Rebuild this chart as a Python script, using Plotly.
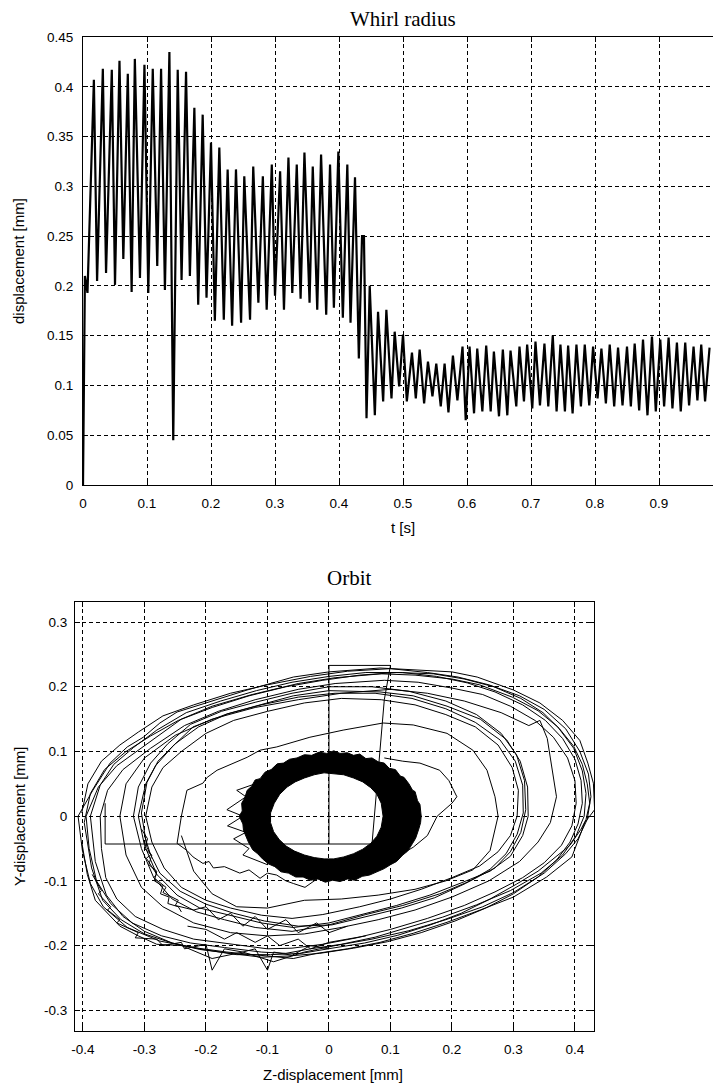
import plotly.graph_objects as go

# page body has an 8px margin: the figure is drawn from (8, 8) on the page
OFF = 8
W, H = 721 - OFF, 1084 - OFF


def px(x):
    return (x - OFF) / W


def py(y):
    return 1 - (y - OFF) / H


# ---------------- Whirl radius (read per-cycle extremes) ----------------
start_t = [0.000, 0.003]
start_v = [0.000, 0.210]

peak_t = [0.017, 0.031, 0.045, 0.057, 0.070, 0.081, 0.096, 0.109, 0.122, 0.135,
          0.148, 0.161, 0.174, 0.187, 0.200, 0.213, 0.226, 0.239, 0.252, 0.266,
          0.281, 0.295, 0.308, 0.321, 0.334, 0.346, 0.359, 0.372, 0.386, 0.399,
          0.413, 0.425, 0.436, 0.439, 0.448, 0.461, 0.474, 0.487, 0.500, 0.514,
          0.526, 0.539, 0.552, 0.565, 0.578, 0.593, 0.604, 0.616, 0.630, 0.642,
          0.656, 0.668, 0.682, 0.694, 0.707, 0.721, 0.734, 0.746, 0.758, 0.771,
          0.784, 0.797, 0.810, 0.823, 0.836, 0.850, 0.862, 0.875, 0.889, 0.902,
          0.915, 0.928, 0.941, 0.954, 0.966, 0.979]
peak_v = [0.407, 0.418, 0.417, 0.426, 0.413, 0.428, 0.422, 0.418, 0.418, 0.435,
          0.417, 0.415, 0.379, 0.372, 0.344, 0.339, 0.317, 0.317, 0.310, 0.320,
          0.310, 0.322, 0.315, 0.329, 0.322, 0.334, 0.320, 0.332, 0.322, 0.335,
          0.322, 0.309, 0.250, 0.250, 0.200, 0.174, 0.176, 0.154, 0.151, 0.133,
          0.136, 0.124, 0.122, 0.122, 0.130, 0.139, 0.139, 0.137, 0.140, 0.134,
          0.136, 0.135, 0.139, 0.141, 0.144, 0.142, 0.150, 0.141, 0.140, 0.141,
          0.141, 0.139, 0.137, 0.141, 0.138, 0.139, 0.142, 0.146, 0.149, 0.146,
          0.148, 0.143, 0.143, 0.139, 0.141, 0.138]

trough_t = [0.007, 0.022, 0.036, 0.050, 0.063, 0.076, 0.089, 0.102, 0.116, 0.128,
            0.141, 0.154, 0.167, 0.180, 0.193, 0.206, 0.220, 0.233, 0.247, 0.261,
            0.274, 0.287, 0.300, 0.314, 0.327, 0.340, 0.354, 0.366, 0.380, 0.392,
            0.406, 0.418, 0.431, 0.443, 0.456, 0.469, 0.482, 0.494, 0.506, 0.520,
            0.533, 0.546, 0.559, 0.571, 0.585, 0.598, 0.611, 0.624, 0.637, 0.650,
            0.663, 0.677, 0.689, 0.702, 0.714, 0.727, 0.740, 0.753, 0.765, 0.778,
            0.791, 0.804, 0.817, 0.830, 0.843, 0.856, 0.869, 0.882, 0.895, 0.908,
            0.921, 0.934, 0.947, 0.960, 0.972]
trough_v = [0.193, 0.205, 0.213, 0.201, 0.227, 0.194, 0.208, 0.193, 0.220, 0.196,
            0.045, 0.206, 0.210, 0.181, 0.188, 0.165, 0.166, 0.160, 0.163, 0.166,
            0.183, 0.176, 0.190, 0.176, 0.193, 0.187, 0.183, 0.176, 0.171, 0.178,
            0.168, 0.163, 0.127, 0.067, 0.070, 0.084, 0.087, 0.099, 0.084, 0.087,
            0.082, 0.089, 0.079, 0.073, 0.085, 0.065, 0.072, 0.074, 0.074, 0.069,
            0.070, 0.079, 0.084, 0.077, 0.080, 0.079, 0.074, 0.074, 0.072, 0.079,
            0.080, 0.087, 0.082, 0.079, 0.080, 0.079, 0.075, 0.070, 0.074, 0.079,
            0.077, 0.074, 0.080, 0.085, 0.084]

t_ticks = [0, 0.1, 0.2, 0.3, 0.4, 0.5, 0.6, 0.7, 0.8, 0.9]
t_ticktext = ["0", "0.1", "0.2", "0.3", "0.4", "0.5", "0.6", "0.7", "0.8", "0.9"]
r_ticks = [0, 0.05, 0.1, 0.15, 0.2, 0.25, 0.3, 0.35, 0.4, 0.45]
r_ticktext = ["0", "0.05", "0.1", "0.15", "0.2", "0.25", "0.3", "0.35", "0.4", "0.45"]

# ---------------- Orbit (read loops) ----------------
outer1_z = [-0.408, -0.384, -0.356, -0.328, -0.302, -0.275, -0.247, -0.198, -0.133, -0.058, 0.000, 0.083, 0.137, 0.200, 0.241, 0.300, 0.343, 0.380, 0.408, 0.421, 0.430, 0.432, 0.416, 0.395, 0.354, 0.300, 0.246, 0.192, 0.137, 0.083, 0.030, -0.020, -0.058, -0.100, -0.166, -0.221, -0.275, -0.328, -0.367, -0.388, -0.401, -0.408]
outer1_y = [0.000, 0.040, 0.082, 0.107, 0.122, 0.144, 0.161, 0.176, 0.195, 0.215, 0.223, 0.229, 0.226, 0.223, 0.215, 0.195, 0.175, 0.148, 0.117, 0.082, 0.051, 0.010, -0.010, -0.063, -0.094, -0.125, -0.145, -0.164, -0.181, -0.195, -0.205, -0.212, -0.220, -0.216, -0.210, -0.203, -0.193, -0.172, -0.140, -0.104, -0.053, 0.000]

outer2_z = [-0.395, -0.375, -0.345, -0.295, -0.240, -0.190, -0.125, -0.050, 0.010, 0.085, 0.140, 0.200, 0.245, 0.298, 0.340, 0.372, 0.398, 0.412, 0.418, 0.415, 0.402, 0.380, 0.345, 0.295, 0.240, 0.185, 0.130, 0.075, 0.020, -0.030, -0.070, -0.110, -0.170, -0.225, -0.272, -0.320, -0.355, -0.378, -0.390, -0.395]
outer2_y = [0.000, 0.045, 0.078, 0.112, 0.150, 0.170, 0.188, 0.205, 0.214, 0.220, 0.218, 0.212, 0.203, 0.184, 0.163, 0.138, 0.105, 0.070, 0.035, 0.000, -0.030, -0.060, -0.088, -0.115, -0.137, -0.156, -0.172, -0.187, -0.198, -0.205, -0.212, -0.210, -0.203, -0.196, -0.185, -0.165, -0.135, -0.100, -0.050, 0.000]

outer3_z = [-0.372, -0.360, -0.335, -0.290, -0.235, -0.180, -0.120, -0.050, 0.010, 0.090, 0.145, 0.200, 0.250, 0.295, 0.335, 0.365, 0.388, 0.400, 0.402, 0.395, 0.378, 0.350, 0.315, 0.270, 0.220, 0.160, 0.100, 0.045, -0.010, -0.060, -0.100, -0.160, -0.220, -0.270, -0.315, -0.345, -0.363, -0.370, -0.372]
outer3_y = [0.000, 0.040, 0.072, 0.105, 0.140, 0.162, 0.180, 0.196, 0.205, 0.210, 0.207, 0.198, 0.188, 0.170, 0.148, 0.122, 0.090, 0.055, 0.020, -0.015, -0.045, -0.072, -0.095, -0.117, -0.138, -0.158, -0.175, -0.188, -0.198, -0.204, -0.205, -0.198, -0.190, -0.175, -0.155, -0.128, -0.095, -0.050, 0.000]

outer4_z = [-0.402, -0.392, -0.370, -0.340, -0.310, -0.270, -0.220, -0.160, -0.100, -0.030, 0.030, 0.100, 0.160, 0.210, 0.260, 0.310, 0.350, 0.385, 0.408, 0.422, 0.426, 0.420, 0.405, 0.385, 0.350, 0.300, 0.250, 0.190, 0.130, 0.070, 0.010, -0.040, -0.090, -0.140, -0.190, -0.240, -0.280, -0.310, -0.340, -0.360, -0.380, -0.393, -0.402]
outer4_y = [0.005, 0.050, 0.085, 0.110, 0.130, 0.155, 0.172, 0.190, 0.203, 0.216, 0.224, 0.228, 0.222, 0.215, 0.203, 0.186, 0.165, 0.135, 0.100, 0.065, 0.030, -0.005, -0.035, -0.058, -0.088, -0.118, -0.140, -0.160, -0.177, -0.190, -0.200, -0.210, -0.225, -0.210, -0.220, -0.200, -0.198, -0.185, -0.170, -0.150, -0.130, -0.090, -0.040]

outer5_z = [-0.388, -0.372, -0.350, -0.318, -0.280, -0.232, -0.176, -0.118, -0.060, 0.000, 0.060, 0.120, 0.175, 0.225, 0.270, 0.315, 0.352, 0.380, 0.400, 0.410, 0.412, 0.405, 0.392, 0.370, 0.340, 0.300, 0.255, 0.205, 0.150, 0.095, 0.040, -0.015, -0.065, -0.110, -0.160, -0.210, -0.255, -0.300, -0.335, -0.362, -0.380, -0.388]
outer5_y = [0.000, 0.048, 0.080, 0.106, 0.133, 0.160, 0.178, 0.194, 0.207, 0.216, 0.222, 0.222, 0.216, 0.206, 0.192, 0.172, 0.148, 0.120, 0.088, 0.055, 0.020, -0.012, -0.040, -0.068, -0.094, -0.120, -0.142, -0.162, -0.180, -0.194, -0.204, -0.212, -0.216, -0.218, -0.212, -0.206, -0.196, -0.178, -0.155, -0.122, -0.070, 0.000]

outer6_z = [-0.398, -0.388, -0.365, -0.330, -0.290, -0.245, -0.190, -0.130, -0.070, -0.010, 0.050, 0.110, 0.170, 0.220, 0.268, 0.312, 0.348, 0.375, 0.398, 0.412, 0.420, 0.424, 0.418, 0.410, 0.392, 0.372, 0.340, 0.305, 0.262, 0.215, 0.165, 0.112, 0.058, 0.005, -0.045, -0.095, -0.150, -0.205, -0.255, -0.300, -0.338, -0.368, -0.386, -0.398]
outer6_y = [-0.010, 0.035, 0.072, 0.100, 0.124, 0.148, 0.168, 0.186, 0.200, 0.210, 0.218, 0.222, 0.220, 0.212, 0.200, 0.182, 0.160, 0.135, 0.108, 0.080, 0.050, 0.020, -0.005, -0.020, -0.045, -0.060, -0.085, -0.105, -0.128, -0.150, -0.168, -0.184, -0.196, -0.204, -0.212, -0.214, -0.214, -0.206, -0.196, -0.182, -0.160, -0.130, -0.080, -0.010]

second1_z = [-0.310, -0.298, -0.282, -0.255, -0.221, -0.166, -0.112, -0.058, 0.000, 0.083, 0.137, 0.192, 0.246, 0.289, 0.311, 0.323, 0.324, 0.315, 0.295, 0.262, 0.218, 0.164, 0.110, 0.060, 0.000, -0.058, -0.110, -0.166, -0.210, -0.247, -0.280, -0.300, -0.310]
second1_y = [0.000, 0.050, 0.078, 0.107, 0.138, 0.158, 0.172, 0.186, 0.194, 0.192, 0.186, 0.170, 0.150, 0.118, 0.085, 0.045, 0.000, -0.030, -0.062, -0.085, -0.102, -0.122, -0.138, -0.150, -0.165, -0.172, -0.165, -0.152, -0.142, -0.122, -0.090, -0.045, 0.000]

second2_z = [-0.298, -0.288, -0.270, -0.240, -0.200, -0.155, -0.100, -0.040, 0.020, 0.085, 0.140, 0.190, 0.238, 0.275, 0.298, 0.308, 0.306, 0.295, 0.275, 0.245, 0.200, 0.150, 0.100, 0.050, -0.010, -0.060, -0.110, -0.160, -0.200, -0.240, -0.268, -0.288, -0.298]
second2_y = [0.000, 0.045, 0.075, 0.100, 0.128, 0.148, 0.162, 0.175, 0.182, 0.180, 0.172, 0.157, 0.138, 0.110, 0.075, 0.040, 0.000, -0.030, -0.055, -0.077, -0.095, -0.113, -0.128, -0.140, -0.152, -0.158, -0.153, -0.142, -0.130, -0.110, -0.080, -0.040, 0.000]

second3_z = [-0.318, -0.310, -0.290, -0.262, -0.225, -0.175, -0.120, -0.060, 0.000, 0.070, 0.130, 0.190, 0.240, 0.280, 0.305, 0.318, 0.320, 0.312, 0.295, 0.270, 0.230, 0.180, 0.120, 0.060, 0.000, -0.060, -0.120, -0.170, -0.215, -0.255, -0.285, -0.305, -0.318]
second3_y = [0.000, 0.045, 0.082, 0.112, 0.142, 0.162, 0.176, 0.190, 0.200, 0.200, 0.193, 0.178, 0.157, 0.128, 0.095, 0.055, 0.010, -0.025, -0.055, -0.080, -0.100, -0.120, -0.138, -0.152, -0.168, -0.178, -0.172, -0.160, -0.148, -0.128, -0.095, -0.050, 0.000]

second4_z = [-0.305, -0.296, -0.278, -0.250, -0.212, -0.165, -0.110, -0.050, 0.010, 0.075, 0.135, 0.190, 0.238, 0.278, 0.303, 0.315, 0.316, 0.306, 0.288, 0.262, 0.222, 0.172, 0.118, 0.062, 0.005, -0.050, -0.105, -0.155, -0.200, -0.242, -0.275, -0.296, -0.305]
second4_y = [0.005, 0.052, 0.085, 0.112, 0.138, 0.158, 0.172, 0.184, 0.190, 0.190, 0.182, 0.166, 0.145, 0.118, 0.085, 0.048, 0.005, -0.028, -0.058, -0.082, -0.104, -0.126, -0.142, -0.155, -0.168, -0.170, -0.162, -0.150, -0.136, -0.116, -0.088, -0.048, 0.005]

trans1_z = [-0.340, -0.330, -0.300, -0.250, -0.190, -0.120, -0.050, 0.020, 0.100, 0.160, 0.220, 0.280, 0.325, 0.343, 0.355, 0.362, 0.370, 0.360, 0.340, 0.310, 0.260, 0.200, 0.140, 0.080, 0.020, -0.040, -0.100, -0.160, -0.220, -0.270, -0.305, -0.330, -0.340]
trans1_y = [0.000, 0.050, 0.090, 0.125, 0.150, 0.168, 0.180, 0.190, 0.196, 0.190, 0.178, 0.160, 0.140, 0.148, 0.120, 0.080, 0.030, -0.010, -0.040, -0.070, -0.100, -0.125, -0.145, -0.160, -0.172, -0.182, -0.185, -0.180, -0.165, -0.140, -0.110, -0.060, 0.000]

mid1_z = [-0.240, -0.231, -0.205, -0.198, -0.182, -0.156, -0.133, -0.112, -0.085, -0.031, 0.023, 0.088, 0.137, 0.192, 0.234, 0.257, 0.270, 0.275, 0.262, 0.234, 0.190, 0.140, 0.080, 0.020, -0.040, -0.100, -0.150, -0.190, -0.220, -0.240]
mid1_y = [0.000, 0.040, 0.051, 0.060, 0.071, 0.082, 0.091, 0.102, 0.107, 0.122, 0.133, 0.144, 0.141, 0.128, 0.102, 0.071, 0.030, 0.000, -0.053, -0.083, -0.100, -0.113, -0.122, -0.128, -0.130, -0.142, -0.140, -0.120, -0.085, -0.030]

mid2_z = [-0.240, -0.247, -0.231, -0.221, -0.205, -0.195, -0.188, -0.170, -0.145, -0.130, -0.112, -0.100, -0.085, -0.070, -0.058, -0.039, -0.015, 0.023, 0.060, 0.110, 0.137, 0.160, 0.176, 0.200, 0.208, 0.195, 0.180, 0.148, 0.120, 0.090]
mid2_y = [0.000, -0.042, -0.053, -0.063, -0.073, -0.070, -0.080, -0.078, -0.088, -0.083, -0.096, -0.088, -0.091, -0.100, -0.104, -0.110, -0.094, -0.080, -0.075, -0.063, -0.048, -0.030, 0.000, 0.020, 0.030, 0.055, 0.071, 0.082, 0.085, 0.090]

jag1_z = [-0.385, -0.370, -0.375, -0.355, -0.360, -0.340, -0.345, -0.310, -0.315, -0.280, -0.270, -0.240, -0.235, -0.200, -0.190, -0.170, -0.140, -0.120, -0.100, -0.090, -0.060, -0.030, 0.000]
jag1_y = [-0.090, -0.115, -0.120, -0.140, -0.145, -0.160, -0.165, -0.180, -0.188, -0.190, -0.200, -0.195, -0.205, -0.198, -0.238, -0.205, -0.210, -0.205, -0.238, -0.210, -0.215, -0.200, -0.205]

jag2_z = [-0.300, -0.290, -0.297, -0.280, -0.285, -0.265, -0.270, -0.245, -0.250, -0.220, -0.200, -0.180, -0.160, -0.140, -0.120, -0.100, -0.070, -0.050, -0.020, 0.000, 0.030]
jag2_y = [-0.030, -0.060, -0.065, -0.090, -0.095, -0.110, -0.118, -0.130, -0.138, -0.145, -0.140, -0.160, -0.150, -0.170, -0.155, -0.175, -0.160, -0.180, -0.165, -0.180, -0.170]

jag3_z = [-0.305, -0.295, -0.300, -0.288, -0.293, -0.280, -0.284, -0.270, -0.274, -0.260, -0.262, -0.245, -0.240]
jag3_y = [-0.020, -0.035, -0.050, -0.060, -0.075, -0.085, -0.100, -0.108, -0.120, -0.125, -0.135, -0.140, -0.148]

jag4_z = [-0.230, -0.200, -0.170, -0.150, -0.120, -0.100, -0.080, -0.050, -0.030, 0.000, 0.030, 0.060]
jag4_y = [-0.170, -0.175, -0.190, -0.180, -0.195, -0.185, -0.200, -0.190, -0.205, -0.195, -0.190, -0.185]

fringe_z = [-0.100, -0.120, -0.150, -0.135, -0.166, -0.140, -0.165, -0.135, -0.155, -0.130, -0.140, -0.100]
fringe_y = [0.060, 0.050, 0.040, 0.030, 0.010, 0.000, -0.015, -0.025, -0.035, -0.050, -0.060, -0.075]

artifact_z = [-0.364, -0.364, 0.070, 0.090, 0.100, 0.000, 0.000]
artifact_y = [0.020, -0.043, -0.043, 0.180, 0.233, 0.233, -0.043]

ring_out_z = [0.150, 0.148, 0.144, 0.140, 0.136, 0.130, 0.122, 0.116, 0.108, 0.098, 0.090, 0.080, 0.070, 0.060, 0.050, 0.040, 0.030, 0.018, 0.008, -0.004, -0.016, -0.028, -0.040, -0.052, -0.064, -0.074, -0.084, -0.094, -0.104, -0.112, -0.120, -0.126, -0.133, -0.137, -0.142, -0.141, -0.146,
              -0.140, -0.139, -0.134, -0.131, -0.124, -0.116, -0.108, -0.098, -0.088, -0.078, -0.066, -0.054, -0.042, -0.030, -0.018, -0.006, 0.006, 0.018, 0.030, 0.042, 0.054, 0.066, 0.078, 0.090, 0.100, 0.110, 0.120, 0.128, 0.136, 0.141, 0.146, 0.149, 0.150]
ring_out_y = [0.000, 0.018, 0.024, 0.038, 0.040, 0.050, 0.060, 0.062, 0.072, 0.074, 0.082, 0.084, 0.090, 0.089, 0.096, 0.094, 0.098, 0.097, 0.101, 0.097, 0.099, 0.094, 0.095, 0.090, 0.088, 0.082, 0.081, 0.072, 0.068, 0.058, 0.056, 0.046, 0.040, 0.028, 0.020, 0.008, 0.000,
              -0.012, -0.022, -0.034, -0.040, -0.052, -0.058, -0.066, -0.074, -0.078, -0.086, -0.088, -0.094, -0.094, -0.099, -0.097, -0.102, -0.099, -0.101, -0.097, -0.099, -0.093, -0.091, -0.086, -0.081, -0.075, -0.070, -0.060, -0.054, -0.042, -0.034, -0.020, -0.010, 0.000]

ring_in_z = [0.088, 0.085, 0.078, 0.068, 0.055, 0.040, 0.024, 0.008, -0.008, -0.024, -0.040, -0.055, -0.068, -0.080, -0.089, -0.095, -0.095, -0.090, -0.081, -0.070, -0.056, -0.040, -0.024, -0.008, 0.008, 0.024, 0.040, 0.055, 0.068, 0.078, 0.085, 0.088]
ring_in_y = [0.000, 0.020, 0.034, 0.044, 0.053, 0.059, 0.064, 0.066, 0.067, 0.064, 0.059, 0.053, 0.045, 0.034, 0.020, 0.005, -0.010, -0.024, -0.036, -0.046, -0.054, -0.060, -0.064, -0.066, -0.066, -0.063, -0.058, -0.051, -0.042, -0.031, -0.017, 0.000]

z_ticks = [-0.4, -0.3, -0.2, -0.1, 0, 0.1, 0.2, 0.3, 0.4]
z_ticktext = ["-0.4", "-0.3", "-0.2", "-0.1", "0", "0.1", "0.2", "0.3", "0.4"]
y_ticks = [-0.3, -0.2, -0.1, 0, 0.1, 0.2, 0.3]
y_ticktext = ["-0.3", "-0.2", "-0.1", "0", "0.1", "0.2", "0.3"]

# ---------------- figure ----------------
fig = go.Figure()

pts = sorted(zip(start_t + peak_t + trough_t, start_v + peak_v + trough_v))
fig.add_trace(go.Scatter(x=[p[0] for p in pts], y=[p[1] for p in pts], mode="lines",
                         line=dict(color="black", width=2.2), xaxis="x", yaxis="y",
                         showlegend=False, hoverinfo="skip"))

# ring band (filled)
ring_fill_z = ring_out_z + ring_in_z[::-1]
ring_fill_y = ring_out_y + ring_in_y[::-1]
fig.add_trace(go.Scatter(x=ring_fill_z, y=ring_fill_y, mode="lines", fill="toself",
                         fillcolor="black", line=dict(color="black", width=1),
                         xaxis="x2", yaxis="y2", showlegend=False, hoverinfo="skip"))

for zz, yy in [(outer1_z, outer1_y), (outer2_z, outer2_y), (outer3_z, outer3_y),
               (outer4_z, outer4_y), (outer5_z, outer5_y), (outer6_z, outer6_y),
               (second1_z, second1_y), (second2_z, second2_y),
               (second3_z, second3_y), (second4_z, second4_y), (trans1_z, trans1_y),
               (mid1_z, mid1_y), (mid2_z, mid2_y), (jag1_z, jag1_y), (jag2_z, jag2_y),
               (jag3_z, jag3_y), (jag4_z, jag4_y),
               (fringe_z, fringe_y), (artifact_z, artifact_y)]:
    fig.add_trace(go.Scatter(x=zz, y=yy, mode="lines", line=dict(color="black", width=1),
                             xaxis="x2", yaxis="y2", showlegend=False, hoverinfo="skip"))

tick_font = dict(family="Liberation Sans, Arial, sans-serif", size=13.5, color="black")
grid = dict(showgrid=True, gridcolor="black", gridwidth=1, griddash="4px,3px",
            zeroline=False, showline=True, linecolor="black", linewidth=1,
            ticks="inside", ticklen=5, tickcolor="black", tickfont=tick_font,
            automargin=False)

fig.update_layout(
    width=W, height=H, autosize=False,
    margin=dict(l=0, r=0, t=0, b=0, autoexpand=False),
    paper_bgcolor="white", plot_bgcolor="white",
    xaxis=dict(domain=[px(83), 1.0], range=[0, 638 / 640], tickvals=t_ticks,
               ticktext=t_ticktext, mirror="ticks", anchor="y",
               ticklabelstandoff=6, **grid),
    yaxis=dict(domain=[py(485), py(37)], range=[0, 0.45], tickvals=r_ticks,
               ticktext=r_ticktext, mirror=False, anchor="x",
               ticklabelstandoff=6, **grid),
    xaxis2=dict(domain=[px(75), px(594)], range=[-0.413, 0.431], tickvals=z_ticks,
                ticktext=z_ticktext, mirror="ticks", anchor="y2",
                ticklabelstandoff=6, **grid),
    yaxis2=dict(domain=[py(1031), py(602)], range=[-0.332, 0.331], tickvals=y_ticks,
                ticktext=y_ticktext, mirror="ticks", anchor="x2",
                ticklabelstandoff=4, **grid),
)

title_font = dict(family="Liberation Serif, Times New Roman, serif", size=21, color="black")
lab_font = dict(family="Liberation Sans, Arial, sans-serif", size=15, color="black")
ann = [
    dict(text="Whirl radius", x=px(403), y=py(19), font=title_font),
    dict(text="Orbit", x=px(349), y=py(578), font=title_font),
    dict(text="t [s]", x=px(403), y=py(527), font=lab_font),
    dict(text="Z-displacement [mm]", x=px(333), y=py(1074), font=lab_font),
    dict(text="displacement [mm]", x=px(19), y=py(261), font=lab_font, textangle=-90),
    dict(text="Y-displacement [mm]", x=px(19), y=py(816), font=lab_font, textangle=-90),
    dict(text="1", x=px(724), y=py(501), font=tick_font),
]
for a in ann:
    fig.add_annotation(xref="paper", yref="paper", showarrow=False,
                       xanchor="center", yanchor="middle", **a)

fig.write_html("out.html")
